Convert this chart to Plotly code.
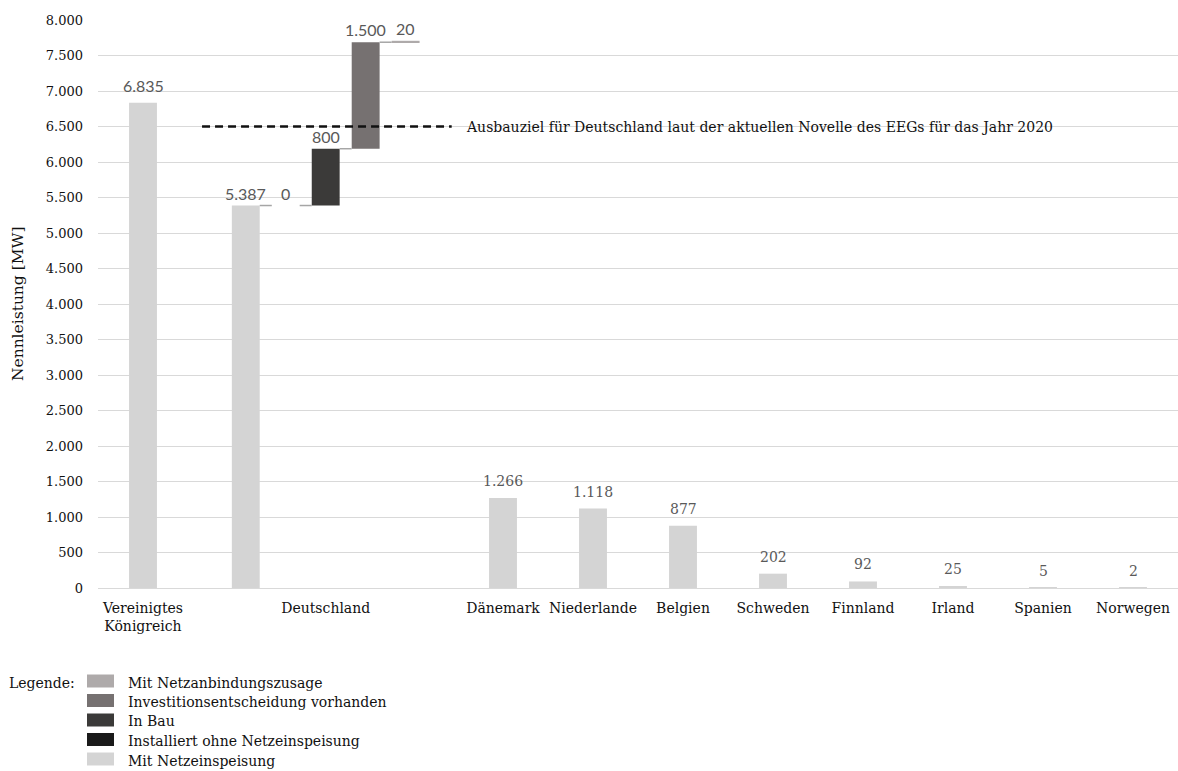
import plotly.graph_objects as go

# Nennleistung Offshore-Wind nach Land [MW]
uk_label = "Vereinigtes<br>Königreich"
uk_value = 6835

de_label = "Deutschland"
de_steps = [
    "Mit Netzeinspeisung",
    "Installiert ohne Netzeinspeisung",
    "In Bau",
    "Investitionsentscheidung vorhanden",
    "Mit Netzanbindungszusage",
]
de_values = [5387, 0, 800, 1500, 20]

other_countries = ["Dänemark", "Niederlande", "Belgien", "Schweden",
                   "Finnland", "Irland", "Spanien", "Norwegen"]
other_values = [1266, 1118, 877, 202, 92, 25, 5, 2]

target_value = 6500
target_text = "Ausbauziel für Deutschland laut der aktuellen Novelle des EEGs für das Jahr 2020"

legend_order = [
    "Mit Netzanbindungszusage",
    "Investitionsentscheidung vorhanden",
    "In Bau",
    "Installiert ohne Netzeinspeisung",
    "Mit Netzeinspeisung",
]
y_ticks = list(range(0, 8001, 500))

# ---- styling ----
colors = {
    "Mit Netzeinspeisung": "#d4d4d4",
    "Installiert ohne Netzeinspeisung": "#1a1a1a",
    "In Bau": "#3b3a39",
    "Investitionsentscheidung vorhanden": "#767171",
    "Mit Netzanbindungszusage": "#aeaaaa",
}
SERIF = "DejaVu Serif"
SANS = "Lato"
LABEL_GREY = "#595959"
BAR_W = 0.31


def de_fmt(v):
    return f"{v:,}".replace(",", ".")


# x layout: UK in slot 0, Germany waterfall spanning slots 1-3, others from slot 4
uk_x = 0.5
de_center = 2.53
de_step = 0.444
de_x = [de_center + (i - 2) * de_step for i in range(len(de_values))]
other_x = [4.5 + i for i in range(len(other_values))]

# waterfall bases
de_base = []
running = 0
for v in de_values:
    de_base.append(running)
    running += v

fig = go.Figure()

for step_i, step in enumerate(de_steps):
    xs = [de_x[step_i]]
    ys = [de_values[step_i]]
    bases = [de_base[step_i]]
    if step == "Mit Netzeinspeisung":
        xs = [uk_x] + xs + other_x
        ys = [uk_value] + ys + other_values
        bases = [0] + bases + [0] * len(other_values)
    fig.add_trace(go.Bar(
        x=xs, y=ys, base=bases, width=BAR_W, name=step,
        marker=dict(color=colors[step], line=dict(width=0)),
        showlegend=False, hoverinfo="skip",
    ))

# connectors between waterfall steps
for i in range(len(de_values) - 1):
    level = de_base[i] + de_values[i]
    fig.add_trace(go.Scatter(
        x=[de_x[i] + BAR_W / 2, de_x[i + 1] - BAR_W / 2], y=[level, level],
        mode="lines", line=dict(color="#a6a6a6", width=1.5),
        showlegend=False, hoverinfo="skip",
    ))

# target line
fig.add_trace(go.Scatter(
    x=[1.156, 3.93], y=[target_value, target_value], mode="lines",
    line=dict(color="#111111", width=2.5, dash="8px,5px"),
    showlegend=False, hoverinfo="skip",
))

annotations = []
# value labels
annotations.append(dict(x=uk_x, y=uk_value, text=de_fmt(uk_value), showarrow=False,
                        xanchor="center", yanchor="bottom", yshift=6,
                        font=dict(family=SANS, size=16, color=LABEL_GREY)))
for xv, v, b in zip(de_x, de_values, de_base):
    annotations.append(dict(x=xv, y=b + v, text=de_fmt(v), showarrow=False,
                            xanchor="center", yanchor="bottom", yshift=1,
                            font=dict(family=SANS, size=16, color=LABEL_GREY)))
for xv, v in zip(other_x, other_values):
    annotations.append(dict(x=xv, y=v, text=de_fmt(v), showarrow=False,
                            xanchor="center", yanchor="bottom", yshift=7,
                            font=dict(family=SERIF, size=14, color=LABEL_GREY)))

annotations.append(dict(x=4.07, y=target_value, text=target_text, showarrow=False,
                        xanchor="left", yanchor="middle",
                        font=dict(family=SERIF, size=14, color="#111111")))

# y-axis title
annotations.append(dict(xref="paper", yref="paper", x=-0.074, y=0.5, text="Nennleistung [MW]",
                        textangle=-90, showarrow=False, xanchor="center", yanchor="middle",
                        font=dict(family=SERIF, size=15.5, color="#111111")))

# legend block
PLOT_L, PLOT_W, PLOT_B, PLOT_H = 98, 1080, 588, 568


def px_x(p):
    return (p - PLOT_L) / PLOT_W


def px_y(p):
    return (PLOT_B - p) / PLOT_H


shapes = []
annotations.append(dict(xref="paper", yref="paper", x=px_x(7), y=px_y(683), text="Legende:",
                        showarrow=False, xanchor="left", yanchor="middle",
                        font=dict(family=SERIF, size=14, color="#111111")))
for row, name in enumerate(legend_order):
    cy = 681 + row * 19.5
    shapes.append(dict(type="rect", xref="paper", yref="paper",
                       x0=px_x(87), x1=px_x(114), y0=px_y(cy - 6.5), y1=px_y(cy + 6.5),
                       fillcolor=colors[name], line=dict(width=0)))
    annotations.append(dict(xref="paper", yref="paper", x=px_x(126), y=px_y(cy + 1.5), text=name,
                            showarrow=False, xanchor="left", yanchor="middle",
                            font=dict(family=SERIF, size=14, color="#111111")))

fig.update_layout(
    width=1178, height=771,
    margin=dict(l=PLOT_L, r=1178 - PLOT_L - PLOT_W, t=PLOT_B - PLOT_H, b=771 - PLOT_B),
    paper_bgcolor="white", plot_bgcolor="white",
    separators=",.",
    barmode="overlay",
    annotations=annotations, shapes=shapes,
    xaxis=dict(range=[0, 12], tickvals=[uk_x, de_center] + other_x,
               ticktext=[uk_label, de_label] + other_countries,
               showgrid=False, zeroline=False, showline=False, ticks="",
               ticklabelstandoff=10,
               tickfont=dict(family=SERIF, size=14, color="#111111"),
               fixedrange=True),
    yaxis=dict(range=[0, 8000], tickvals=y_ticks, tickformat=",d",
               showgrid=True, gridcolor="#d9d9d9", gridwidth=1,
               zeroline=True, zerolinecolor="#d9d9d9", zerolinewidth=1,
               showline=False, ticks="", ticklabelstandoff=14,
               tickfont=dict(family=SERIF, size=13, color="#111111"),
               fixedrange=True),
    font=dict(family=SERIF),
)

fig.write_html("out.html")
